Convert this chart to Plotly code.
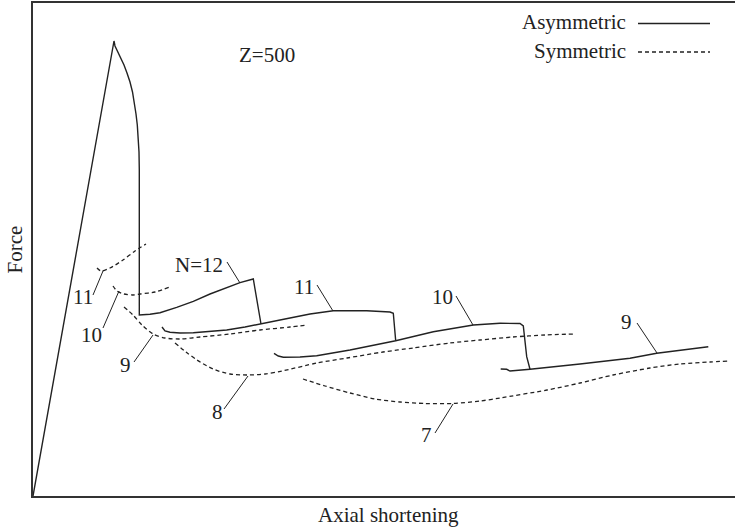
import plotly.graph_objects as go

# Force / axial-shortening response, Z = 500.
# Asymmetric (solid) branches, one per lobe count N
asym_n12_x = [0.0, 8.1, 8.2, 8.5, 8.8, 9.1, 9.4, 9.7, 9.95, 10.15, 10.3, 10.43, 10.53,
              10.6, 10.63, 10.63, 10.63,
              11.7, 12.7, 14.37, 16.03, 17.7, 19.37, 20.7, 22.03, 22.8]
asym_n12_y = [0.0, 45.5, 45.0, 44.4, 43.8, 43.1, 42.3, 41.4, 40.4, 39.3, 38.2, 37.1, 35.8,
              34.4, 32.6, 29.6, 18.1,
              18.17, 18.33, 18.87, 19.47, 20.2, 20.87, 21.33, 21.7, 17.2]

asym_n11_x = [12.9, 13.2, 13.7, 14.7, 16.03, 17.7, 19.37, 21.2, 22.8, 25.2, 27.7,
              30.03, 33.37, 35.7, 36.03, 36.27]
asym_n11_y = [16.9, 16.5, 16.37, 16.3, 16.33, 16.45, 16.6, 16.9, 17.2, 17.7, 18.2,
              18.53, 18.53, 18.4, 18.27, 15.53]

asym_n10_x = [24.1, 24.53, 25.03, 26.7, 28.37, 31.7, 36.27, 40.03, 44.03, 46.7,
              48.7, 49.03, 49.37, 49.7]
asym_n10_y = [14.27, 14.0, 13.87, 13.9, 14.03, 14.6, 15.53, 16.43, 17.1, 17.27,
              17.25, 17.0, 13.93, 12.67]

asym_n9_x = [46.77, 47.37, 47.7, 49.7, 54.7, 59.7, 62.37, 67.53]
asym_n9_y = [12.7, 12.67, 12.5, 12.67, 13.2, 13.77, 14.27, 14.93]

# Symmetric (dashed) branches
sym_n11_x = [6.4, 6.8, 7.7, 9.0, 10.2, 11.3]
sym_n11_y = [22.8, 22.5, 22.8, 23.6, 24.5, 25.2]

sym_n10_x = [8.0, 8.4, 9.1, 10.0, 10.7, 12.2, 13.7]
sym_n10_y = [21.0, 20.5, 20.2, 20.1, 20.2, 20.4, 20.9]

sym_n9_x = [9.1, 10.0, 10.9, 12.0, 13.2, 14.7, 16.7, 19.7, 22.7, 25.7, 27.4]
sym_n9_y = [18.9, 18.1, 17.1, 16.2, 15.8, 15.7, 15.9, 16.2, 16.6, 16.9, 17.1]

sym_n8_x = [14.2, 15.3, 16.4, 18.0, 19.7, 21.4, 23.2, 24.9, 28.4, 31.4, 35.0, 38.0,
            41.7, 44.7, 48.0, 51.2, 54.1]
sym_n8_y = [15.3, 14.4, 13.6, 12.7, 12.2, 12.1, 12.2, 12.5, 13.3, 13.8, 14.4, 14.8,
            15.3, 15.6, 15.9, 16.1, 16.2]

sym_n7_x = [27.0, 29.2, 31.7, 34.2, 36.7, 39.2, 42.0, 44.7, 46.7, 51.4, 54.7, 58.0,
            61.7, 64.7, 67.7, 69.5]
sym_n7_y = [11.7, 11.0, 10.3, 9.7, 9.4, 9.25, 9.25, 9.5, 9.8, 10.6, 11.3, 12.1,
            12.8, 13.2, 13.4, 13.5]

# Lobe-number labels: text, text position, leader line start and end
label_text = ["N=12", "11", "10", "9", "11", "10", "9", "8", "7"]
label_pos = [(16.6, 23.1), (27.1, 20.9), (40.9, 19.9), (59.3, 17.4),
             (5.0, 19.9), (5.8, 16.1), (9.25, 13.15), (18.4, 8.4), (39.3, 6.1)]
leader_seg = [((19.4, 23.4), (20.7, 21.3)), ((28.4, 21.1), (30.0, 18.5)),
              ((42.3, 20.0), (44.0, 17.1)), ((60.4, 17.3), (62.4, 14.3)),
              ((6.0, 20.1), (7.0, 22.5)), ((7.0, 16.8), (8.6, 20.5)),
              ((10.1, 13.4), (12.0, 16.1)), ((19.1, 8.7), (21.5, 12.0)),
              ((40.2, 6.3), (42.0, 9.2))]

INK = "#222222"
FONT = "Liberation Serif"
FS = 21
SOLID = dict(color=INK, width=1.4)
DASHED = dict(color=INK, width=1.3, dash="4px,3px")

fig = go.Figure()

for xs, ys in [(asym_n12_x, asym_n12_y), (asym_n11_x, asym_n11_y),
               (asym_n10_x, asym_n10_y), (asym_n9_x, asym_n9_y)]:
    fig.add_trace(go.Scatter(x=xs, y=ys, mode="lines", line=SOLID,
                             showlegend=False, hoverinfo="skip"))

for xs, ys in [(sym_n11_x, sym_n11_y), (sym_n10_x, sym_n10_y),
               (sym_n9_x, sym_n9_y), (sym_n8_x, sym_n8_y), (sym_n7_x, sym_n7_y)]:
    fig.add_trace(go.Scatter(x=xs, y=ys, mode="lines",
                             line=dict(**DASHED, shape="spline", smoothing=0.8),
                             showlegend=False, hoverinfo="skip"))

for txt, (tx, ty), ((x0, y0), (x1, y1)) in zip(label_text, label_pos, leader_seg):
    fig.add_annotation(x=tx, y=ty, text=txt, showarrow=False,
                       font=dict(family=FONT, size=FS, color=INK))
    fig.add_shape(type="line", x0=x0, y0=y0, x1=x1, y1=y1,
                  line=dict(color=INK, width=1))

fig.add_annotation(x=23.4, y=44.1, text="Z=500", showarrow=False,
                   font=dict(family=FONT, size=FS, color=INK))

# Key: label text on the left, line sample on the right
for name, ky, style in [("Asymmetric", 47.4, SOLID), ("Symmetric", 44.55, DASHED)]:
    fig.add_annotation(x=59.5, y=ky, text=name, showarrow=False, xanchor="right",
                       font=dict(family=FONT, size=FS, color=INK))
    fig.add_shape(type="line", x0=60.5, x1=67.7, y0=ky - 0.15, y1=ky - 0.15, line=style)

# Axis titles
fig.add_annotation(xref="paper", yref="paper", x=0.507, y=0, yshift=-19,
                   xanchor="center", yanchor="middle",
                   text="Axial shortening", showarrow=False,
                   font=dict(family=FONT, size=FS, color=INK))
fig.add_annotation(xref="paper", yref="paper", x=0, y=0.5, xshift=-19,
                   xanchor="center", yanchor="middle",
                   text="Force", textangle=-90, showarrow=False,
                   font=dict(family=FONT, size=FS, color=INK))

fig.update_xaxes(range=[0, 70.2], showgrid=False, zeroline=False, showticklabels=False,
                 ticks="", showline=True, linecolor="#333333", linewidth=2, mirror=True)
fig.update_yaxes(range=[0, 49.3], showgrid=False, zeroline=False, showticklabels=False,
                 ticks="", showline=True, linecolor="#333333", linewidth=2, mirror=False)

fig.update_layout(width=735, height=530, margin=dict(l=33, r=0, t=3, b=34),
                  plot_bgcolor="white", paper_bgcolor="white")

fig.write_html("out.html")
